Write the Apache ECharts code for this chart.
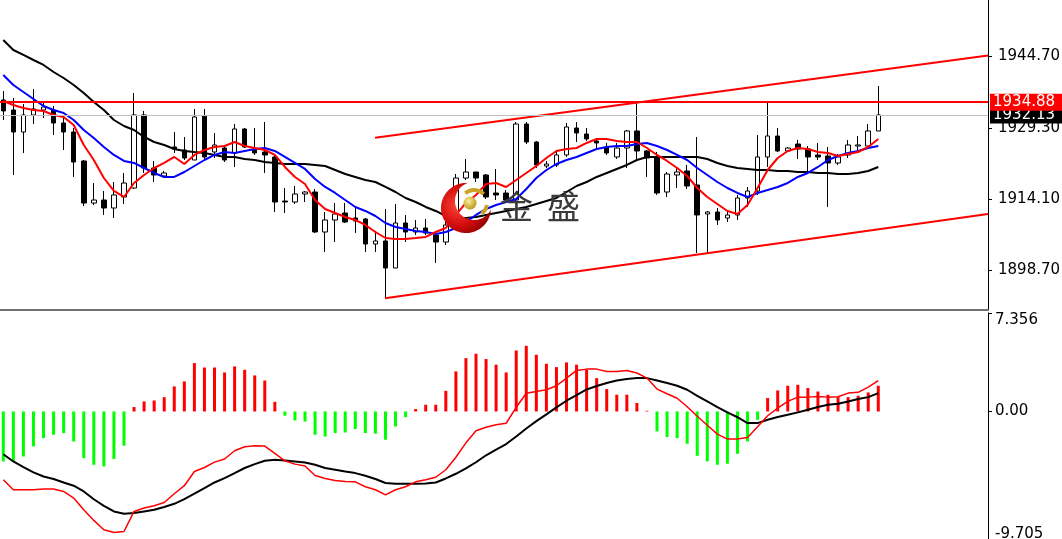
<!DOCTYPE html>
<html><head><meta charset="utf-8">
<script src="https://cdn.jsdelivr.net/npm/echarts@6/dist/echarts.min.js"></script>
<style>html,body{margin:0;padding:0;background:#fff}#c{width:1062px;height:539px}</style>
</head><body><div id="c"></div>
<script>
const OPEN = [1935.35,1933.20,1928.47,1932.13,1933.20,1933.20,1930.41,1928.47,1922.24,1913.20,
 1913.85,1912.13,1914.50,1916.43,1932.13,1920.73,1919.01,1925.25,1924.60,1922.45,
 1931.91,1924.17,1925.03,1923.96,1929.12,1924.60,1924.17,1923.10,1913.63,1913.42,
 1915.14,1915.57,1906.97,1909.55,1911.05,1909.98,1909.77,1904.39,1905.04,1899.23,
 1908.90,1906.97,1907.83,1906.33,1904.82,1908.26,1918.58,1919.87,1919.23,1915.35,
 1915.35,1913.85,1930.19,1926.32,1921.16,1921.38,1923.53,1929.33,1928.04,1926.54,
 1925.25,1923.10,1925.03,1928.69,1924.39,1923.10,1915.57,1919.23,1920.09,1917.08,
 1910.84,1911.27,1909.98,1910.63,1914.28,1915.78,1923.10,1927.61,1924.39,1925.89,
 1924.82,1923.53,1923.31,1921.81,1923.53,1925.46,1925.46,1928.69];
const CLOSE = [1933.00,1928.47,1932.13,1933.42,1933.85,1930.41,1928.47,1922.02,1913.20,1913.85,
 1912.13,1914.93,1917.50,1932.13,1920.73,1919.23,1919.66,1924.82,1922.88,1931.70,
 1923.10,1925.68,1922.45,1929.12,1925.25,1923.96,1923.53,1913.42,1913.42,1915.14,
 1915.57,1906.97,1909.55,1910.84,1909.12,1909.34,1904.39,1905.04,1899.23,1908.90,
 1906.97,1907.83,1906.76,1904.82,1908.48,1918.58,1919.87,1918.58,1914.50,1914.93,
 1913.85,1930.19,1926.32,1921.38,1921.59,1923.53,1929.55,1928.26,1926.97,1926.11,
 1923.96,1925.03,1928.69,1924.39,1922.88,1915.35,1919.44,1919.87,1916.86,1910.63,
 1911.27,1909.55,1910.63,1914.28,1915.78,1923.10,1927.61,1924.39,1925.03,1924.82,
 1923.10,1923.10,1921.81,1923.10,1925.68,1925.68,1928.69,1932.13];
const LOW = [1931.05,1919.23,1923.96,1930.19,1931.48,1927.83,1924.60,1918.80,1912.56,1912.78,
 1910.63,1909.98,1912.99,1916.22,1919.66,1917.72,1918.58,1923.96,1922.45,1922.45,
 1922.67,1922.88,1922.02,1920.95,1925.03,1923.53,1919.66,1911.27,1911.05,1912.99,
 1913.42,1906.76,1902.67,1904.82,1908.90,1906.76,1902.67,1902.67,1892.78,1899.23,
 1904.82,1906.33,1906.33,1900.31,1904.18,1907.83,1918.15,1917.72,1914.07,1913.85,
 1913.20,1913.42,1925.89,1920.73,1920.73,1920.95,1923.10,1926.32,1926.54,1924.60,
 1923.53,1922.67,1920.73,1922.45,1918.80,1914.93,1914.50,1916.43,1916.22,1902.46,
 1902.46,1908.48,1909.12,1909.55,1912.35,1914.93,1920.95,1924.17,1924.17,1922.67,
 1919.66,1922.45,1912.35,1921.38,1922.88,1924.60,1925.46,1928.69];
const HIGH = [1937.28,1935.78,1934.49,1937.72,1934.92,1934.06,1931.48,1929.33,1922.45,1917.50,
 1915.78,1917.72,1919.66,1936.86,1932.99,1922.24,1920.09,1928.47,1927.40,1933.42,
 1933.42,1928.26,1925.68,1930.19,1929.33,1929.33,1930.62,1923.53,1916.43,1916.86,
 1915.78,1916.22,1911.27,1913.20,1913.20,1912.13,1909.98,1907.19,1911.92,1912.99,
 1910.63,1909.55,1909.77,1906.97,1909.98,1919.44,1922.67,1919.87,1919.44,1920.52,
 1916.00,1930.62,1930.62,1926.54,1922.24,1924.17,1930.41,1930.62,1929.33,1927.18,
 1926.11,1926.11,1928.90,1934.92,1924.60,1924.17,1919.87,1920.73,1921.38,1927.40,
 1911.49,1912.13,1911.27,1914.93,1916.65,1927.83,1934.92,1929.33,1925.25,1926.75,
 1925.46,1926.11,1925.25,1923.74,1926.75,1927.61,1930.19,1938.36];

const MA_FAST = [1935.14,1934.28,1933.63,1933.20,1932.99,1932.13,1931.70,1929.98,1925.68,1922.45,
 1918.58,1915.79,1914.50,1917.51,1919.23,1920.73,1921.81,1923.10,1921.59,1923.53,
 1924.60,1925.25,1925.46,1926.32,1925.46,1925.03,1924.60,1923.53,1920.95,1918.80,
 1917.29,1913.85,1911.92,1911.06,1910.20,1909.55,1908.48,1906.97,1905.68,1905.47,
 1905.47,1905.68,1905.90,1906.97,1907.83,1910.63,1913.21,1914.93,1917.29,1917.51,
 1916.65,1918.15,1919.66,1921.16,1922.88,1924.39,1924.82,1925.03,1926.11,1926.97,
 1926.97,1926.54,1926.32,1926.32,1925.03,1923.53,1922.24,1920.73,1919.01,1916.43,
 1914.50,1912.99,1911.49,1910.84,1912.78,1916.43,1920.30,1922.88,1924.39,1925.03,
 1924.82,1924.17,1923.96,1923.31,1923.74,1924.17,1925.25,1926.97];
const MA_MID = [1940.73,1938.58,1937.07,1935.57,1934.06,1933.20,1932.56,1931.05,1928.90,1927.18,
 1925.25,1923.53,1922.24,1921.81,1920.73,1919.66,1918.80,1918.80,1919.87,1921.16,
 1922.45,1923.53,1924.17,1923.96,1924.39,1924.82,1925.03,1924.39,1923.10,1921.81,
 1920.52,1918.37,1916.65,1915.36,1913.85,1912.35,1911.49,1910.41,1908.91,1908.05,
 1907.62,1907.19,1906.97,1906.54,1906.97,1907.83,1909.12,1910.63,1911.92,1912.78,
 1913.42,1914.07,1916.22,1918.58,1920.30,1921.59,1922.45,1923.10,1923.96,1924.82,
 1925.25,1925.46,1925.46,1925.89,1926.11,1925.46,1924.60,1923.53,1922.45,1920.73,
 1919.23,1917.72,1916.43,1915.36,1914.50,1915.36,1916.00,1916.65,1917.51,1918.80,
 1919.66,1920.95,1922.45,1923.31,1923.96,1924.39,1925.03,1925.46];
const MA_SLOW = [1948.25,1946.10,1945.03,1943.95,1942.88,1941.37,1940.08,1938.58,1936.86,1934.92,
 1933.20,1931.05,1929.76,1928.90,1927.40,1926.32,1925.68,1924.82,1924.39,1924.17,
 1923.96,1923.53,1923.10,1923.10,1922.67,1922.45,1922.02,1921.81,1921.59,1921.59,
 1921.59,1921.38,1921.16,1920.30,1919.44,1918.80,1918.15,1917.72,1916.65,1915.57,
 1914.28,1913.42,1912.35,1911.49,1910.41,1909.98,1909.98,1910.20,1910.63,1911.06,
 1911.49,1911.92,1912.35,1912.99,1913.64,1914.28,1915.57,1916.86,1917.72,1918.80,
 1919.66,1920.52,1921.38,1922.45,1923.10,1923.10,1923.10,1923.10,1923.10,1923.10,
 1922.67,1921.81,1921.16,1920.73,1920.52,1920.30,1920.30,1920.09,1920.09,1919.87,
 1919.87,1919.66,1919.66,1919.44,1919.44,1919.66,1920.09,1920.95];

const HIST = [-3.73,-3.73,-3.36,-2.61,-1.99,-1.74,-1.61,-2.24,-3.48,-3.98,
 -4.10,-3.55,-2.56,0.33,0.75,0.82,1.07,1.87,2.24,3.61,
 3.28,3.28,2.91,3.36,3.11,2.69,2.31,0.72,-0.32,-0.67,
 -0.75,-1.74,-1.87,-1.61,-1.57,-1.31,-1.61,-1.66,-2.11,-1.12,
 -0.42,0.18,0.50,0.50,1.54,2.99,3.98,4.31,3.91,3.49,
 2.91,4.55,4.90,4.23,3.56,3.31,3.66,3.49,3.11,2.49,
 1.67,1.25,1.25,0.63,0.05,-1.49,-1.91,-1.99,-2.41,-3.31,
 -3.73,-3.98,-3.90,-3.16,-2.24,-0.62,1.00,1.57,1.92,1.99,
 1.75,1.49,1.25,1.07,1.07,1.17,1.42,1.92];
const MACD_MAIN = [-5.10,-5.84,-5.84,-5.84,-5.79,-5.79,-5.97,-6.46,-7.34,-8.13,
 -8.83,-9.03,-8.96,-7.46,-7.21,-7.04,-6.79,-6.14,-5.54,-4.48,
 -4.18,-3.78,-3.55,-2.93,-2.63,-2.56,-2.58,-3.13,-3.68,-3.93,
 -4.07,-4.78,-5.00,-5.15,-5.22,-5.25,-5.62,-5.84,-6.22,-5.84,
 -5.62,-5.25,-5.10,-4.91,-4.35,-3.42,-2.34,-1.44,-1.18,-0.99,
 -0.88,0.31,1.36,1.49,1.62,1.92,2.49,3.06,3.16,3.16,
 2.99,2.99,3.06,2.87,2.49,1.67,1.32,0.99,0.35,-0.36,
 -1.03,-1.69,-2.06,-2.06,-1.94,-1.14,-0.32,0.25,0.75,1.07,
 1.07,1.12,1.07,1.10,1.37,1.43,1.82,2.31];
const MACD_SIGNAL = [-3.19,-3.73,-4.15,-4.55,-4.85,-5.04,-5.30,-5.54,-5.97,-6.55,
 -7.04,-7.46,-7.63,-7.58,-7.46,-7.34,-7.13,-6.89,-6.54,-6.14,
 -5.72,-5.30,-4.97,-4.60,-4.22,-3.93,-3.68,-3.60,-3.66,-3.73,
 -3.81,-3.98,-4.22,-4.35,-4.48,-4.60,-4.80,-5.04,-5.34,-5.40,
 -5.40,-5.40,-5.37,-5.30,-5.00,-4.65,-4.25,-3.79,-3.27,-2.84,
 -2.43,-1.87,-1.27,-0.72,-0.22,0.30,0.80,1.22,1.64,1.90,
 2.12,2.31,2.42,2.49,2.49,2.31,2.12,1.92,1.62,1.17,
 0.75,0.33,-0.07,-0.43,-0.87,-0.87,-0.62,-0.42,-0.25,-0.07,
 0.13,0.33,0.50,0.57,0.75,0.93,1.07,1.37];

const PRICE_TICKS = [1944.70, 1929.30, 1914.10, 1898.70];
const MACD_TICKS = [7.356, 0, -9.705];
const MACD_TICK_LABELS = ['7.356', '0.00', '-9.705'];
const LEVEL_PRICE = 1934.88;
const LAST_PRICE = 1932.13;
const TREND_UPPER = [[36.96, 1927.24], [97.91, 1944.92]];
const TREND_LOWER = [[37.95, 1892.72], [97.91, 1910.84]];

const FONT = 'DejaVu Sans';
const withIndex = arr => arr.map((v, i) => [i, v]);
const candles = OPEN.map((o, i) => [i, o, CLOSE[i], LOW[i], HIGH[i]]);

// crescent outline for the watermark logo (decoration)
function crescentPoints() {
  const pts = [];
  const o = {cx: 466, cy: 208, r: 25}, n = {cx: 474, cy: 201, r: 19};
  const a1 = Math.atan2(183.06 - o.cy, 467.74 - o.cx);
  const a2 = Math.atan2(209.58 - o.cy, 490.94 - o.cx) - 2 * Math.PI;
  for (let k = 0; k <= 60; k++) {
    const a = a1 + (a2 - a1) * k / 60;
    pts.push([o.cx + o.r * Math.cos(a), o.cy + o.r * Math.sin(a)]);
  }
  const b1 = Math.atan2(209.58 - n.cy, 490.94 - n.cx);
  const b2 = Math.atan2(183.06 - n.cy, 467.74 - n.cx) + 2 * Math.PI;
  for (let k = 0; k <= 50; k++) {
    const b = b1 + (b2 - b1) * k / 50;
    pts.push([n.cx + n.r * Math.cos(b), n.cy + n.r * Math.sin(b)]);
  }
  return pts;
}

const chart = echarts.init(document.getElementById('c'), null, {renderer: 'canvas', width: 1062, height: 539});

const priceLabel = (text, bg) => ({
  show: true, position: 'end', distance: 2, formatter: text,
  color: '#ffffff', backgroundColor: bg, fontFamily: FONT, fontSize: 15,
  lineHeight: 15, padding: [1, 12, 1, 3]
});

const option = {
  animation: false,
  backgroundColor: '#ffffff',
  grid: [
    {left: 0, top: 0, right: 74, height: 310, outerBoundsMode: 'none', containLabel: false},
    {left: 0, right: 74, top: 312.9, height: 228.6, outerBoundsMode: 'none', containLabel: false}
  ],
  xAxis: [
    {type: 'value', gridIndex: 0, min: -0.328, max: 97.91,
     axisLine: {show: true, onZero: false, lineStyle: {color: '#707070', width: 2}},
     axisTick: {show: false}, axisLabel: {show: false}, splitLine: {show: false}},
    {type: 'value', gridIndex: 1, min: -0.328, max: 97.91, show: false,
     axisLine: {onZero: false}, splitLine: {show: false}}
  ],
  yAxis: [
    {type: 'value', gridIndex: 0, position: 'right', min: 1890.2, max: 1956.85,
     axisLine: {show: true, onZero: false, lineStyle: {color: '#000', width: 1}},
     axisTick: {show: true, length: 4, customValues: PRICE_TICKS, lineStyle: {color: '#000'}},
     axisLabel: {show: true, customValues: PRICE_TICKS, formatter: v => v.toFixed(2),
       color: '#000', fontFamily: FONT, fontSize: 15, margin: 10},
     splitLine: {show: false}},
    {type: 'value', gridIndex: 1, position: 'right', min: -9.705, max: 7.356,
     axisLine: {show: true, onZero: false, lineStyle: {color: '#000', width: 1}},
     axisTick: {show: true, length: 4, customValues: MACD_TICKS, lineStyle: {color: '#000'}},
     axisLabel: {show: true, customValues: MACD_TICKS,
       formatter: v => MACD_TICK_LABELS[MACD_TICKS.findIndex(t => Math.abs(t - v) < 1e-6)],
       color: '#000', fontFamily: FONT, fontSize: 15, margin: 7,
       verticalAlignMaxLabel: 'bottom', verticalAlignMinLabel: 'top'},
     splitLine: {show: false}}
  ],
  series: [
    {type: 'candlestick', xAxisIndex: 0, yAxisIndex: 0, data: candles, barWidth: 5,
     itemStyle: {color: '#ffffff', color0: '#000000', borderColor: '#000000', borderColor0: '#000000', borderWidth: 1},
     markLine: {
       silent: true, symbol: ['none', 'none'], animation: false,
       data: [
         {yAxis: LAST_PRICE, lineStyle: {color: '#c0c0c0', width: 1, type: 'solid'}, label: priceLabel(LAST_PRICE.toFixed(2), '#000000')},
         {yAxis: LEVEL_PRICE, lineStyle: {color: '#ff0000', width: 2, type: 'solid'}, label: priceLabel(LEVEL_PRICE.toFixed(2), '#ff0000')}
       ]
     }},
    {type: 'line', xAxisIndex: 0, yAxisIndex: 0, data: withIndex(MA_SLOW), symbol: 'none', lineStyle: {color: '#000000', width: 2}, z: 3},
    {type: 'line', xAxisIndex: 0, yAxisIndex: 0, data: withIndex(MA_MID), symbol: 'none', lineStyle: {color: '#0000ff', width: 2}, z: 3},
    {type: 'line', xAxisIndex: 0, yAxisIndex: 0, data: withIndex(MA_FAST), symbol: 'none', lineStyle: {color: '#ff0000', width: 2}, z: 3},
    {type: 'line', xAxisIndex: 0, yAxisIndex: 0, data: TREND_UPPER, symbol: 'none', lineStyle: {color: '#ff0000', width: 2}, z: 3},
    {type: 'line', xAxisIndex: 0, yAxisIndex: 0, data: TREND_LOWER, symbol: 'none', lineStyle: {color: '#ff0000', width: 2}, z: 3},
    {type: 'bar', xAxisIndex: 1, yAxisIndex: 1, data: withIndex(HIST), barWidth: 3,
     itemStyle: {color: p => (p.value[1] >= 0 ? '#ff0000' : '#00ff00')}},
    {type: 'line', xAxisIndex: 1, yAxisIndex: 1, data: withIndex(MACD_SIGNAL), symbol: 'none', lineStyle: {color: '#000000', width: 2}, z: 3},
    {type: 'line', xAxisIndex: 1, yAxisIndex: 1, data: withIndex(MACD_MAIN), symbol: 'none', lineStyle: {color: '#ff0000', width: 1.5}, z: 4}
  ],
  graphic: [
    {type: 'polygon', z: 100, shape: {points: crescentPoints()},
     style: {fill: {type: 'radial', x: 0.35, y: 0.45, r: 0.75,
       colorStops: [{offset: 0, color: '#ff4a3a'}, {offset: 0.55, color: '#d10a0a'}, {offset: 1, color: '#7a0000'}]}}},
    {type: 'arc', z: 100, shape: {cx: 474, cy: 203, r: 13, startAngle: -2.3, endAngle: -0.75},
     style: {stroke: '#c9a227', lineWidth: 4, fill: null}},
    {type: 'arc', z: 100, shape: {cx: 474, cy: 203, r: 13, startAngle: 0.15, endAngle: 0.95},
     style: {stroke: '#c9a227', lineWidth: 4, fill: null}},
    {type: 'circle', z: 101, shape: {cx: 470, cy: 203, r: 6.5},
     style: {fill: {type: 'radial', x: 0.4, y: 0.35, r: 0.7,
       colorStops: [{offset: 0, color: '#fbeea0'}, {offset: 1, color: '#b8930e'}]}}},
    {type: 'text', z: 100, style: {text: '金', x: 500, y: 190, fontSize: 33, fontFamily: 'Noto Sans CJK SC', fill: '#3a3a3a'}},
    {type: 'text', z: 100, style: {text: '盛', x: 547, y: 190, fontSize: 33, fontFamily: 'Noto Sans CJK SC', fill: '#3a3a3a'}}
  ]
};
chart.setOption(option);
</script>
</body></html>
